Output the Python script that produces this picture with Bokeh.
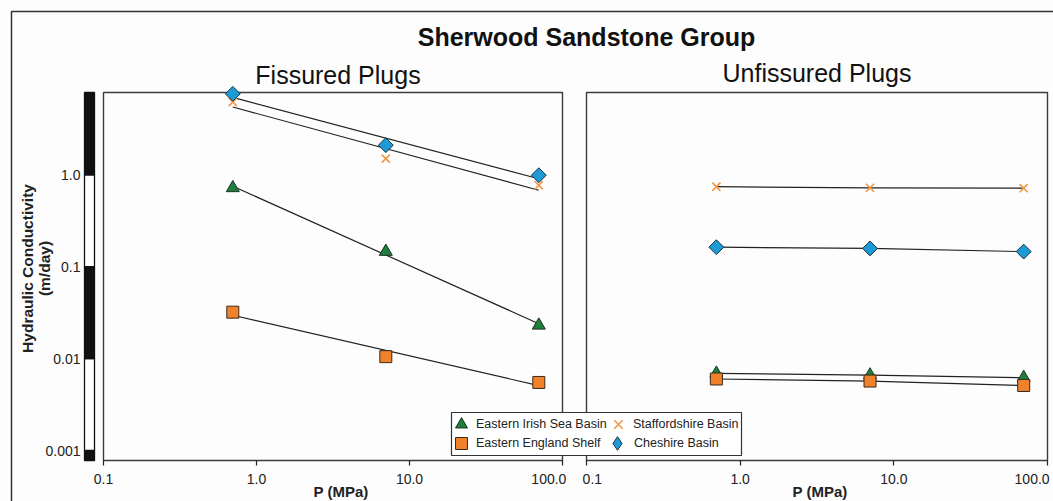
import math
import numpy as np
from bokeh.plotting import figure
from bokeh.models import (Range1d, LinearScale, LogAxis, LinearAxis, FixedTicker,
                          BoxAnnotation, Legend, LegendItem)
from bokeh.embed import file_html
from bokeh.resources import INLINE

# ---------------- data ----------------
pressure_mpa = [0.7, 7.0, 70.0]
series_names = ["Eastern Irish Sea Basin", "Eastern England Shelf",
                "Staffordshire Basin", "Cheshire Basin"]

fissured_irish_sea = [0.72, 0.146, 0.023]
fissured_england_shelf = [0.032, 0.0105, 0.0055]
fissured_staffordshire = [6.2, 1.5, 0.77]
fissured_cheshire = [7.6, 2.1, 0.99]

unfissured_irish_sea = [0.0069, 0.0066, 0.0062]
unfissured_england_shelf = [0.0060, 0.0057, 0.0051]
unfissured_staffordshire = [0.742, 0.722, 0.715]
unfissured_cheshire = [0.163, 0.158, 0.146]

x_tick_values = [0.1, 1.0, 10.0, 100.0]
x_tick_labels = ["0.1", "1.0", "10.0", "100.0"]
y_tick_values = [0.001, 0.01, 0.1, 1.0]
y_tick_labels = ["0.001", "0.01", "0.1", "1.0"]

title_text = "Sherwood Sandstone Group"
panel_titles = ["Fissured Plugs", "Unfissured Plugs"]
x_label = "P (MPa)"
y_label = "Hydraulic Conductivity\n(m/day)"

# ---------------- layout (pixels; the frame is the whole canvas) ----------------
W, H = 1053, 501
PANEL_X = {"default": (103, 562), "unf": (586, 1047)}   # px of first / last x tick
PT, PB = 92, 460                            # panel top / bottom
Y_PX_TOP_TICK, Y_PX_BOT_TICK = 174.3, 450.0  # px of y=1.0 and y=0.001
BAR_L, BAR_R = 84, 94
Y_AXIS_PX = 82
Y_LABEL_CENTER = 268
X_LABEL_SHIFT = {"default": 8, "unf": 6}
TITLE_CENTER = 586
LEGEND_BOX = (451, 741, 412, 455)           # left, right, top, bottom
# legend entry: marker centre x, centre y, glyph box, label standoff
LEGEND_SLOTS = {
    "Eastern Irish Sea Basin": (461, 424, 30, -2),
    "Eastern England Shelf": (461, 443, 30, -1),
    "Staffordshire Basin": (618, 424, 30, 0),
    "Cheshire Basin": (617, 443, 34, 0),
}
FONT = "Liberation Sans"
BG = "#fdfdfd"
INK = "#222222"
FRAME_INK = "#3c3c3c"
NBSP = "\u00a0"


def lin_log(p, p0, v0, p1, v1):
    l0, l1 = math.log10(v0), math.log10(v1)
    return 10 ** (l0 + (p - p0) * (l1 - l0) / (p1 - p0))


X_LO, X_HI = x_tick_values[0], x_tick_values[-1]


def x_at(name, px):
    a, b = PANEL_X[name]
    return lin_log(px, a, X_LO, b, X_HI)


def y_at(px):
    return lin_log(px, Y_PX_TOP_TICK, y_tick_values[-1], Y_PX_BOT_TICK, y_tick_values[0])


Y_LO, Y_HI = y_at(PB), y_at(PT)

p = figure(width=W, height=H, x_axis_type="log", y_axis_type="log",
           x_range=Range1d(x_at("default", 0), x_at("default", W)),
           y_range=Range1d(y_at(H), y_at(0)),
           x_axis_location=None, y_axis_location="left",
           toolbar_location=None, output_backend="svg",
           min_border=0, min_border_left=0, min_border_right=0,
           min_border_top=0, min_border_bottom=0)
p.title.visible = False
p.extra_x_ranges = {"unf": Range1d(x_at("unf", 0), x_at("unf", W)), "px": Range1d(0, W)}
p.extra_x_scales = {"px": LinearScale()}
p.grid.visible = False
p.outline_line_color = None
p.background_fill_color = BG
p.border_fill_color = BG

# ---------------- y axis ----------------
ya = p.yaxis[0]
ya.fixed_location = x_at("default", Y_AXIS_PX)
ya.bounds = (y_at(2 * Y_LABEL_CENTER - 92), y_at(92))
ya.ticker = FixedTicker(ticks=y_tick_values)
ya.major_label_overrides = dict(zip(y_tick_values, y_tick_labels))
ya.axis_line_color = None
ya.major_tick_line_color = None
ya.minor_tick_line_color = None
ya.major_tick_out = 0
ya.major_tick_in = 0
ya.major_label_standoff = 2
ya.major_label_text_font = FONT
ya.major_label_text_font_size = "14px"
ya.major_label_text_color = INK
ya.axis_label = y_label
ya.axis_label_text_font = FONT
ya.axis_label_text_font_size = "15.5px"
ya.axis_label_text_font_style = "bold"
ya.axis_label_text_color = INK
ya.axis_label_text_line_height = 1.0
ya.axis_label_standoff = -11

# black / white decade bar
bar_edges = [Y_LO] + y_tick_values + [Y_HI]
bar_colors = ["#111111" if i % 2 == 0 else "#ffffff" for i in range(len(bar_edges) - 1)]
p.quad(left=BAR_L, right=BAR_R, bottom=bar_edges[:-1], top=bar_edges[1:],
       fill_color=bar_colors, line_color="#111111", line_width=1.3, x_range_name="px")

# ---------------- panel boxes ----------------
for name in ["default", "unf"]:
    p.add_layout(BoxAnnotation(left=X_LO, right=X_HI, bottom=Y_LO, top=Y_HI,
                               x_range_name=name, fill_alpha=0, fill_color=None,
                               line_color=FRAME_INK, line_alpha=1.0, line_width=1.4,
                               level="underlay"))

# outer border
p.add_layout(BoxAnnotation(left=11, right=W + 30, top=11, bottom=H + 30,
                           left_units="canvas", right_units="canvas",
                           top_units="canvas", bottom_units="canvas",
                           fill_alpha=0, fill_color=None, line_color="#333333",
                           line_alpha=1.0, line_width=1.5, level="overlay"))

# ---------------- x axes (below) ----------------
label_sets = {
    "default": x_tick_labels[:-1] + [x_tick_labels[-1] + NBSP * 7],
    "unf": [NBSP * 3 + x_tick_labels[0]] + x_tick_labels[1:-1] + [x_tick_labels[-1] + NBSP],
}
for name in ["default", "unf"]:
    a, b = PANEL_X[name]
    ax = LogAxis(x_range_name=name, fixed_location=Y_LO,
                 bounds=(X_LO, x_at(name, b + 2 * X_LABEL_SHIFT[name])),
                 ticker=FixedTicker(ticks=x_tick_values))
    ax.major_label_overrides = dict(zip(x_tick_values, label_sets[name]))
    ax.axis_line_color = None
    ax.major_tick_line_color = INK
    ax.major_tick_line_width = 1.2
    ax.major_tick_out = 5
    ax.major_tick_in = 0
    ax.minor_tick_line_color = None
    ax.major_label_standoff = 5
    ax.major_label_text_font = FONT
    ax.major_label_text_font_size = "14px"
    ax.major_label_text_color = INK
    ax.axis_label = x_label
    ax.axis_label_text_font = FONT
    ax.axis_label_text_font_size = "15px"
    ax.axis_label_text_font_style = "bold"
    ax.axis_label_text_color = INK
    ax.axis_label_standoff = -7
    p.add_layout(ax, "below")


# ---------------- titles (above, as axis labels) ----------------
def title_axis(axis_cls, range_name, bounds, text, size, style, standoff):
    ax = axis_cls(x_range_name=range_name, fixed_location=Y_HI, bounds=bounds,
                  ticker=FixedTicker(ticks=[]))
    ax.axis_line_color = None
    ax.major_tick_line_color = None
    ax.minor_tick_line_color = None
    ax.major_tick_out = 0
    ax.major_tick_in = 0
    ax.minor_tick_out = 0
    ax.major_label_text_font_size = "0px"
    ax.axis_label = text
    ax.axis_label_text_font = FONT
    ax.axis_label_text_font_size = size
    ax.axis_label_text_font_style = style
    ax.axis_label_text_color = "#111111"
    ax.axis_label_standoff = standoff
    p.add_layout(ax, "above")


title_axis(LogAxis, "default", (X_LO, x_at("default", PANEL_X["default"][1] + 10)),
           panel_titles[0], "25px", "normal", 4)
title_axis(LogAxis, "unf", (X_LO, X_HI), panel_titles[1], "25px", "normal", 6)
half = PANEL_X["unf"][1] - TITLE_CENTER
title_axis(LinearAxis, "px", (TITLE_CENTER - half, TITLE_CENTER + half),
           title_text, "25px", "bold", 42)

# ---------------- series ----------------
styles = {
    "Eastern Irish Sea Basin": dict(marker="triangle", size=13, fill_color="#1f7e3e",
                                    line_color="#1b3324", line_width=1.0),
    "Eastern England Shelf": dict(marker="square", size=12, fill_color="#f0822c",
                                  line_color="#3a2a1a", line_width=1.0),
    "Staffordshire Basin": dict(marker="x", size=11.5, line_color="#ef9a4c", line_width=1.7),
    "Cheshire Basin": dict(marker="square", size=10.5, angle=math.pi / 4,
                           fill_color="#1c9bd7", line_color="#1f2f3a", line_width=1.0),
}
legend_marker = {"Cheshire Basin": "diamond"}

fissured = dict(zip(series_names, [fissured_irish_sea, fissured_england_shelf,
                                   fissured_staffordshire, fissured_cheshire]))
unfissured = dict(zip(series_names, [unfissured_irish_sea, unfissured_england_shelf,
                                     unfissured_staffordshire, unfissured_cheshire]))

x_ends = [pressure_mpa[0], pressure_mpa[-1]]
log_x = np.log10(pressure_mpa)
for name in series_names:
    # power-law trend line (log-log least squares) in the fissured panel
    k, c = np.polyfit(log_x, np.log10(fissured[name]), 1)
    fit = [10 ** (c + k * math.log10(x)) for x in x_ends]
    p.line(x_ends, fit, line_color=INK, line_width=1.2)
    # joined points in the unfissured panel
    p.line(pressure_mpa, unfissured[name], line_color=INK, line_width=1.2, x_range_name="unf")

legend_renderers = {}
for name in series_names:
    r = p.scatter(pressure_mpa, fissured[name], **styles[name])
    p.scatter(pressure_mpa, unfissured[name], x_range_name="unf", **styles[name])
    if name in legend_marker:
        st = dict(styles[name])
        st.pop("angle", None)
        st["marker"] = legend_marker[name]
        r = p.scatter(pressure_mpa, fissured[name], visible=False, **st)
    legend_renderers[name] = r

# legend frame, then one borderless single-entry legend per slot
lb_l, lb_r, lb_t, lb_b = LEGEND_BOX
p.add_layout(BoxAnnotation(left=lb_l, right=lb_r, top=lb_t, bottom=lb_b,
                           left_units="canvas", right_units="canvas",
                           top_units="canvas", bottom_units="canvas",
                           fill_color="#ffffff", fill_alpha=1.0,
                           line_color="#333333", line_alpha=1.0, line_width=1.2))
for name in series_names:
    cx, cy, g, standoff = LEGEND_SLOTS[name]
    lg = Legend(items=[LegendItem(label=name, renderers=[legend_renderers[name]])],
                location=(cx - g / 2, H - (cy + g / 2)),
                label_text_font=FONT, label_text_font_size="12.5px", label_text_color=INK,
                glyph_width=g, glyph_height=g, label_standoff=standoff,
                padding=0, margin=0, label_height=16,
                border_line_color=None, background_fill_alpha=0.0,
                inactive_fill_alpha=0.0)
    p.add_layout(lg, "center")

open("out.html", "w").write(file_html(p, INLINE))
